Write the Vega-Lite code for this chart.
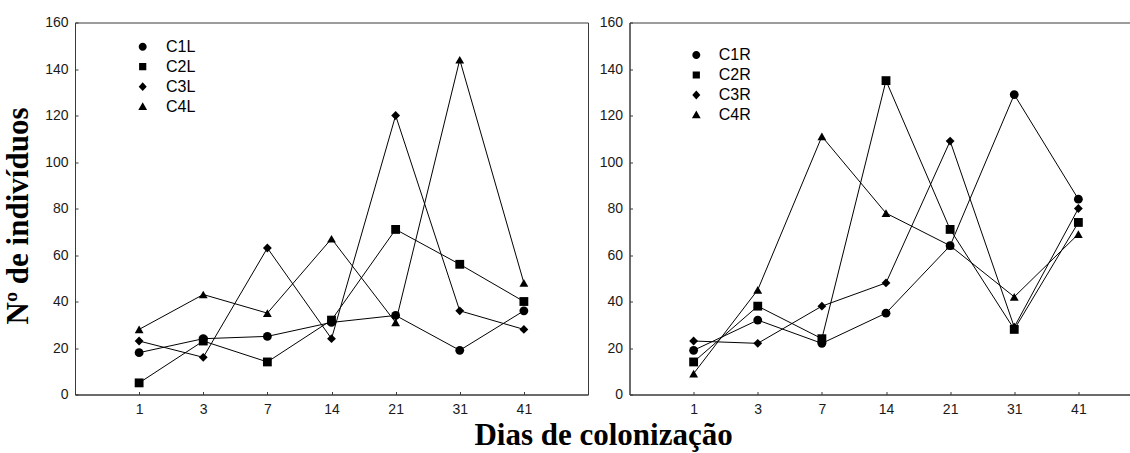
{
  "$schema": "https://vega.github.io/schema/vega-lite/v6.json",
  "background": "white",
  "padding": {"left": 2, "top": 14.5, "right": 0, "bottom": 0},
  "config": {
    "view": {"stroke": "#3a3a3a", "strokeWidth": 1},
    "axis": {
      "domainColor": "#3a3a3a",
      "tickColor": "#3a3a3a",
      "tickSize": -3,
      "labelFont": "Liberation Sans",
      "labelFontSize": 14,
      "labelColor": "#1a1a1a",
      "grid": false,
      "titleFont": "Liberation Serif",
      "titleFontWeight": "bold",
      "titleColor": "black"
    },
    "legend": {
      "title": null,
      "orient": "none",
      "labelFont": "Liberation Sans",
      "labelFontSize": 16,
      "labelColor": "black",
      "symbolSize": 64,
      "symbolOpacity": 1,
      "symbolFillColor": "black",
      "symbolStrokeColor": "black",
      "symbolStrokeWidth": 1,
      "padding": 0,
      "rowPadding": 4,
      "labelOffset": 15
    }
  },
  "datasets": {
    "left": [
      {"serie": "C1L", "dia": 1, "n": 18}, {"serie": "C1L", "dia": 3, "n": 24}, {"serie": "C1L", "dia": 7, "n": 25},
      {"serie": "C1L", "dia": 14, "n": 31}, {"serie": "C1L", "dia": 21, "n": 34}, {"serie": "C1L", "dia": 31, "n": 19},
      {"serie": "C1L", "dia": 41, "n": 36},
      {"serie": "C2L", "dia": 1, "n": 5}, {"serie": "C2L", "dia": 3, "n": 23}, {"serie": "C2L", "dia": 7, "n": 14},
      {"serie": "C2L", "dia": 14, "n": 32}, {"serie": "C2L", "dia": 21, "n": 71}, {"serie": "C2L", "dia": 31, "n": 56},
      {"serie": "C2L", "dia": 41, "n": 40},
      {"serie": "C3L", "dia": 1, "n": 23}, {"serie": "C3L", "dia": 3, "n": 16}, {"serie": "C3L", "dia": 7, "n": 63},
      {"serie": "C3L", "dia": 14, "n": 24}, {"serie": "C3L", "dia": 21, "n": 120}, {"serie": "C3L", "dia": 31, "n": 36},
      {"serie": "C3L", "dia": 41, "n": 28},
      {"serie": "C4L", "dia": 1, "n": 28}, {"serie": "C4L", "dia": 3, "n": 43}, {"serie": "C4L", "dia": 7, "n": 35},
      {"serie": "C4L", "dia": 14, "n": 67}, {"serie": "C4L", "dia": 21, "n": 31}, {"serie": "C4L", "dia": 31, "n": 144},
      {"serie": "C4L", "dia": 41, "n": 48}
    ],
    "right": [
      {"serie": "C1R", "dia": 1, "n": 19}, {"serie": "C1R", "dia": 3, "n": 32}, {"serie": "C1R", "dia": 7, "n": 22},
      {"serie": "C1R", "dia": 14, "n": 35}, {"serie": "C1R", "dia": 21, "n": 64}, {"serie": "C1R", "dia": 31, "n": 129},
      {"serie": "C1R", "dia": 41, "n": 84},
      {"serie": "C2R", "dia": 1, "n": 14}, {"serie": "C2R", "dia": 3, "n": 38}, {"serie": "C2R", "dia": 7, "n": 24},
      {"serie": "C2R", "dia": 14, "n": 135}, {"serie": "C2R", "dia": 21, "n": 71}, {"serie": "C2R", "dia": 31, "n": 28},
      {"serie": "C2R", "dia": 41, "n": 74},
      {"serie": "C3R", "dia": 1, "n": 23}, {"serie": "C3R", "dia": 3, "n": 22}, {"serie": "C3R", "dia": 7, "n": 38},
      {"serie": "C3R", "dia": 14, "n": 48}, {"serie": "C3R", "dia": 21, "n": 109}, {"serie": "C3R", "dia": 31, "n": 29},
      {"serie": "C3R", "dia": 41, "n": 80},
      {"serie": "C4R", "dia": 1, "n": 9}, {"serie": "C4R", "dia": 3, "n": 45}, {"serie": "C4R", "dia": 7, "n": 111},
      {"serie": "C4R", "dia": 14, "n": 78}, {"serie": "C4R", "dia": 21, "n": 64}, {"serie": "C4R", "dia": 31, "n": 42},
      {"serie": "C4R", "dia": 41, "n": 69}
    ]
  },
  "title": {
    "text": "Dias de colonização",
    "orient": "bottom",
    "anchor": "middle",
    "frame": "bounds",
    "font": "Liberation Serif",
    "fontSize": 31,
    "fontWeight": "bold",
    "color": "black",
    "offset": 4,
    "dx": 31
  },
  "spacing": 9.5,
  "resolve": {
    "scale": {"shape": "independent"},
    "legend": {"shape": "independent"}
  },
  "hconcat": [
    {
      "width": 513,
      "height": 372,
      "data": {"name": "left"},
      "resolve": {"scale": {"shape": "independent"}, "legend": {"shape": "independent"}},
      "layer": [
        {
          "mark": {"type": "line", "color": "black", "strokeWidth": 1},
          "encoding": {
            "x": {"field": "dia", "type": "ordinal", "scale": {"type": "point", "padding": 1},
                  "axis": {"title": null, "labelAngle": 0, "labelPadding": 11}},
            "y": {"field": "n", "type": "quantitative", "scale": {"domain": [0, 160], "nice": false},
                  "axis": {"values": [0, 20, 40, 60, 80, 100, 120, 140, 160], "title": "Nº de indivíduos",
                           "titleFontSize": 31, "titlePadding": 10, "titleY": 193, "labelPadding": 10}},
            "detail": {"field": "serie"}
          }
        },
        {
          "mark": {"type": "point", "filled": true, "color": "black", "size": 78, "opacity": 1},
          "encoding": {
            "x": {"field": "dia", "type": "ordinal"},
            "y": {"field": "n", "type": "quantitative"},
            "shape": {
              "field": "serie", "type": "nominal",
              "scale": {"domain": ["C1L", "C2L", "C3L", "C4L"], "range": ["circle", "square", "diamond", "triangle-up"]},
              "legend": null
            }
          }
        },
        {
          "mark": {"type": "point", "filled": true, "color": "black", "stroke": "black", "strokeWidth": 1, "size": 64, "opacity": 0},
          "encoding": {
            "x": {"field": "dia", "type": "ordinal"},
            "y": {"field": "n", "type": "quantitative"},
            "shape": {
              "field": "serie", "type": "nominal",
              "scale": {"range": [
                "M-3.2,0H3.2M1,0A1,1,0,1,1,-1,0A1,1,0,1,1,1,0Z",
                "M-3.2,0H3.2M-0.9,-0.9H0.9V0.9H-0.9Z",
                "M-3.2,0H3.2M0,-1.1L1,0L0,1.1L-1,0Z",
                "M-3.2,0H3.2M0,-1.1L1.1,0.8L-1.1,0.8Z"
              ]},
              "legend": {
                "legendX": 59.7, "legendY": 16.2, "labelOffset": 15.3, "symbolOpacity": 1,
                "encode": {
                  "symbols": {
                    "fill": {"value": "black"},
                    "stroke": {"value": "black"},
                    "strokeWidth": {"value": 1},
                    "opacity": {"value": 1}
                  }
                }
              }
            }
          }
        }
      ]
    },
    {
      "width": 513,
      "height": 372,
      "data": {"name": "right"},
      "resolve": {"scale": {"shape": "independent"}, "legend": {"shape": "independent"}},
      "layer": [
        {
          "mark": {"type": "line", "color": "black", "strokeWidth": 1},
          "encoding": {
            "x": {"field": "dia", "type": "ordinal", "scale": {"type": "point", "padding": 1},
                  "axis": {"title": null, "labelAngle": 0, "labelPadding": 11}},
            "y": {"field": "n", "type": "quantitative", "scale": {"domain": [0, 160], "nice": false},
                  "axis": {"values": [0, 20, 40, 60, 80, 100, 120, 140, 160], "title": null, "labelPadding": 10}},
            "detail": {"field": "serie"}
          }
        },
        {
          "mark": {"type": "point", "filled": true, "color": "black", "size": 78, "opacity": 1},
          "encoding": {
            "x": {"field": "dia", "type": "ordinal"},
            "y": {"field": "n", "type": "quantitative"},
            "shape": {
              "field": "serie", "type": "nominal",
              "scale": {"domain": ["C1R", "C2R", "C3R", "C4R"], "range": ["circle", "square", "diamond", "triangle-up"]},
              "legend": null
            }
          }
        },
        {
          "mark": {"type": "point", "filled": true, "color": "black", "stroke": "black", "strokeWidth": 1, "size": 64, "opacity": 0},
          "encoding": {
            "x": {"field": "dia", "type": "ordinal"},
            "y": {"field": "n", "type": "quantitative"},
            "shape": {
              "field": "serie", "type": "nominal",
              "scale": {"range": [
                "M-3.2,0H3.2M1,0A1,1,0,1,1,-1,0A1,1,0,1,1,1,0Z",
                "M-3.2,0H3.2M-0.9,-0.9H0.9V0.9H-0.9Z",
                "M-3.2,0H3.2M0,-1.1L1,0L0,1.1L-1,0Z",
                "M-3.2,0H3.2M0,-1.1L1.1,0.8L-1.1,0.8Z"
              ]},
              "legend": {
                "legendX": 58.8, "legendY": 24.5, "labelOffset": 14.4, "symbolOpacity": 1,
                "encode": {
                  "symbols": {
                    "fill": {"value": "black"},
                    "stroke": {"value": "black"},
                    "strokeWidth": {"value": 1},
                    "opacity": {"value": 1}
                  }
                }
              }
            }
          }
        }
      ]
    }
  ]
}
